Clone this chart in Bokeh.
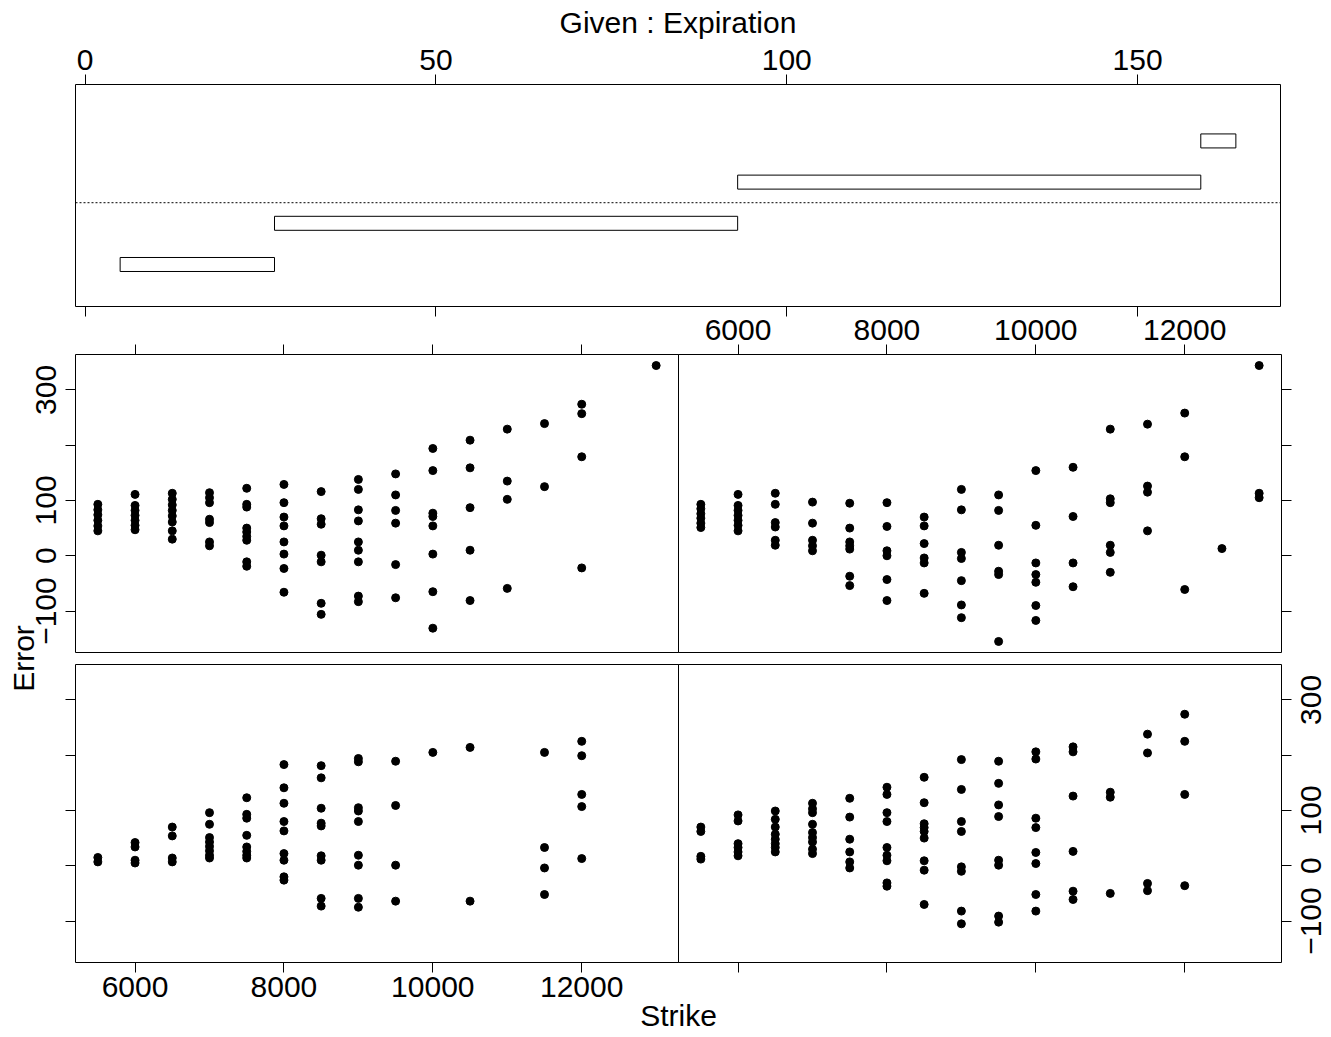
from bokeh.plotting import figure
from bokeh.models import LinearAxis, FixedTicker, Range1d, BoxAnnotation
from bokeh.embed import file_html
from bokeh.resources import INLINE

# ---------------------------------------------------------------------------
# Data: option pricing error against strike, conditioned on days to expiration
# ---------------------------------------------------------------------------

# conditioning intervals of Expiration (days), lowest interval first
exp_lo = [5, 27, 93, 159]
exp_hi = [27, 93, 159, 164]
exp_ticks = [0, 50, 100, 150]

strike_ticks = [6000, 8000, 10000, 12000]
error_ticks = [-100, 0, 100, 200, 300]
error_labels = {-100: "\u2212100", 0: "0", 100: "100", 200: "", 300: "300"}

# interval 1 (bottom-left panel)
int1_strike = [
    5500, 5500,
    6000, 6000, 6000, 6000,
    6500, 6500, 6500, 6500,
    7000, 7000, 7000, 7000, 7000, 7000, 7000, 7000,
    7500, 7500, 7500, 7500, 7500, 7500, 7500, 7500,
    8000, 8000, 8000, 8000, 8000, 8000, 8000, 8000, 8000,
    8500, 8500, 8500, 8500, 8500, 8500, 8500, 8500, 8500,
    9000, 9000, 9000, 9000, 9000, 9000, 9000, 9000, 9000,
    9500, 9500, 9500, 9500,
    10000,
    10500, 10500,
    11500, 11500, 11500, 11500,
    12000, 12000, 12000, 12000, 12000,
]
int1_error = [
    15, 7,
    42, 34, 10, 5,
    70, 54, 14, 7,
    96, 75, 51, 43, 35, 27, 19, 14,
    123, 93, 86, 55, 34, 26, 19, 14,
    183, 141, 113, 80, 63, 22, 10, -20, -26,
    181, 159, 104, 77, 72, 18, 10, -59, -73,
    194, 188, 105, 99, 80, 19, 1, -59, -75,
    189, 109, 1, -64,
    205,
    214, -64,
    205, 33, -4, -52,
    225, 199, 129, 107, 13,
]

# interval 2 (bottom-right panel)
int2_strike = [
    5500, 5500, 5500, 5500,
    6000, 6000, 6000, 6000, 6000, 6000,
    6500, 6500, 6500, 6500, 6500, 6500, 6500, 6500,
    7000, 7000, 7000, 7000, 7000, 7000, 7000, 7000, 7000,
    7500, 7500, 7500, 7500, 7500, 7500,
    8000, 8000, 8000, 8000, 8000, 8000, 8000, 8000, 8000,
    8500, 8500, 8500, 8500, 8500, 8500, 8500, 8500, 8500,
    9000, 9000, 9000, 9000, 9000, 9000, 9000, 9000,
    9500, 9500, 9500, 9500, 9500, 9500, 9500, 9500,
    10000, 10000, 10000, 10000, 10000, 10000, 10000, 10000,
    10500, 10500, 10500, 10500, 10500, 10500,
    11000, 11000, 11000,
    11500, 11500, 11500, 11500,
    12000, 12000, 12000, 12000,
]
int2_error = [
    70, 62, 17, 12,
    92, 81, 40, 33, 25, 18,
    99, 84, 70, 57, 48, 40, 33, 25,
    113, 103, 96, 75, 60, 51, 43, 30, 22,
    122, 88, 48, 25, 7, -4,
    142, 129, 96, 80, 33, 19, 9, -31, -37,
    160, 114, 76, 69, 62, 50, 9, -8, -70,
    192, 138, 80, 62, -2, -10, -82, -105,
    189, 149, 110, 89, 10, 1, -91, -102,
    206, 193, 86, 69, 24, 4, -52, -82,
    215, 206, 126, 26, -46, -61,
    133, 124, -50,
    238, 204, -32, -45,
    274, 225, 129, -36,
]

# interval 3 (top-left panel)
int3_strike = [
    5500, 5500, 5500, 5500, 5500, 5500,
    6000, 6000, 6000, 6000, 6000, 6000, 6000,
    6500, 6500, 6500, 6500, 6500, 6500, 6500, 6500,
    7000, 7000, 7000, 7000, 7000, 7000, 7000,
    7500, 7500, 7500, 7500, 7500, 7500, 7500, 7500, 7500,
    8000, 8000, 8000, 8000, 8000, 8000, 8000, 8000,
    8500, 8500, 8500, 8500, 8500, 8500, 8500,
    9000, 9000, 9000, 9000, 9000, 9000, 9000, 9000, 9000,
    9500, 9500, 9500, 9500, 9500, 9500,
    10000, 10000, 10000, 10000, 10000, 10000, 10000, 10000,
    10500, 10500, 10500, 10500, 10500,
    11000, 11000, 11000, 11000,
    11500, 11500,
    12000, 12000, 12000, 12000,
    13000,
]
int3_error = [
    93, 83, 74, 64, 54, 45,
    111, 91, 82, 73, 64, 55, 47,
    113, 102, 92, 82, 72, 61, 45, 30,
    114, 105, 96, 66, 60, 25, 18,
    122, 93, 88, 50, 43, 35, 28, -11, -19,
    129, 96, 70, 54, 25, 3, -23, -66,
    116, 67, 57, 1, -11, -86, -106,
    138, 120, 83, 63, 25, 10, -11, -73, -83,
    148, 110, 82, 59, -16, -76,
    194, 154, 77, 71, 54, 3, -65, -131,
    209, 159, 87, 10, -81,
    229, 135, 102, -59,
    239, 125,
    274, 257, 179, -22,
    344,
]

# interval 4 (top-right panel)
int4_strike = [
    5500, 5500, 5500, 5500, 5500, 5500,
    6000, 6000, 6000, 6000, 6000, 6000, 6000,
    6500, 6500, 6500, 6500, 6500, 6500,
    7000, 7000, 7000, 7000, 7000,
    7500, 7500, 7500, 7500, 7500, 7500, 7500,
    8000, 8000, 8000, 8000, 8000, 8000,
    8500, 8500, 8500, 8500, 8500, 8500,
    9000, 9000, 9000, 9000, 9000, 9000, 9000,
    9500, 9500, 9500, 9500, 9500, 9500,
    10000, 10000, 10000, 10000, 10000, 10000, 10000,
    10500, 10500, 10500, 10500,
    11000, 11000, 11000, 11000, 11000, 11000,
    11500, 11500, 11500, 11500,
    12000, 12000, 12000,
    12500,
    13000, 13000, 13000,
]
int4_error = [
    93, 85, 76, 68, 59, 51,
    111, 91, 82, 73, 64, 55, 45,
    113, 93, 60, 52, 28, 19,
    97, 59, 28, 18, 9,
    95, 50, 25, 18, 12, -37, -54,
    96, 53, 9, 0, -43, -81,
    70, 54, 22, -4, -13, -68,
    120, 83, 6, -5, -45, -89, -112,
    110, 82, 19, -28, -34, -155,
    154, 55, -13, -34, -48, -90, -117,
    160, 71, -13, -56,
    229, 103, 96, 19, 6, -30,
    238, 126, 115, 45,
    258, 179, -61,
    13,
    344, 113, 105,
]

# ---------------------------------------------------------------------------
# Page geometry (canvas pixels, measured from the top-left corner)
# ---------------------------------------------------------------------------
W, H = 1331, 1037
FONT = "Liberation Sans"
TICK_SIZE = "30px"
LABEL_SIZE = "30px"

GIVEN_X, GIVEN_Y = (75, 1280), (84, 306)
LEFT_X, RIGHT_X = (75, 678), (678, 1281)
TOP_Y, BOTTOM_Y = (354, 652), (664, 962)
RIGHT_LABEL_EDGE = 1321  # right-hand edge of the upright labels beside the right column


def padded(lo, hi, frac=0.04):
    pad = (hi - lo) * frac
    return lo - pad, hi + pad


def x_scale_for(d0, d1, px0, px1):
    """Range over the whole canvas width that puts [d0, d1] on [px0, px1]."""
    k = (d1 - d0) / (px1 - px0)
    return Range1d(d0 - px0 * k, d0 + (W - px0) * k)


def y_scale_for(d0, d1, px_top, px_bottom):
    """Range over the whole canvas height that puts [d0, d1] on [px_bottom, px_top]."""
    k = (d1 - d0) / (px_bottom - px_top)
    return Range1d(d0 - (H - px_bottom) * k, d1 + px_top * k)


all_strike = int1_strike + int2_strike + int3_strike + int4_strike
all_error = int1_error + int2_error + int3_error + int4_error
strike_lim = padded(min(all_strike), max(all_strike))
error_lim = padded(min(all_error), max(all_error))
exp_lim = padded(min(exp_lo), max(exp_hi))
given_lim = (-0.02, 5.37)

p = figure(width=W, height=H, x_range=Range1d(0, W), y_range=Range1d(H, 0),
           x_axis_location=None, y_axis_location=None,
           toolbar_location=None, output_backend="svg", min_border=0)
p.outline_line_color = None
p.background_fill_color = "white"
p.border_fill_color = "white"
p.grid.visible = False

p.extra_x_ranges = {
    "exp": x_scale_for(*exp_lim, *GIVEN_X),
    "strike_l": x_scale_for(*strike_lim, *LEFT_X),
    "strike_r": x_scale_for(*strike_lim, *RIGHT_X),
}
p.extra_y_ranges = {
    "given": y_scale_for(*given_lim, *GIVEN_Y),
    "err_top": y_scale_for(*error_lim, *TOP_Y),
    "err_bot": y_scale_for(*error_lim, *BOTTOM_Y),
}


def frame_box(xs, ys):
    p.add_layout(BoxAnnotation(left=xs[0], right=xs[1], top=ys[0], bottom=ys[1],
                               fill_alpha=0, line_color="black", line_alpha=1,
                               line_width=1))


def add_axis(side, loc, ticks, labels=None, xr="default", yr="default",
             bounds=None, orientation=None, standoff=0, tick_out=10):
    ax = LinearAxis(ticker=FixedTicker(ticks=ticks, minor_ticks=[]),
                    fixed_location=loc, x_range_name=xr, y_range_name=yr)
    if bounds is not None:
        ax.bounds = bounds
    ax.major_tick_out = tick_out
    ax.major_tick_in = 0
    ax.minor_tick_out = 0
    ax.minor_tick_in = 0
    ax.axis_line_color = None
    ax.major_tick_line_color = "black"
    ax.major_tick_line_width = 1
    ax.major_label_text_font = FONT
    ax.major_label_text_font_size = TICK_SIZE
    ax.major_label_text_color = "black"
    ax.major_label_standoff = standoff
    ax.major_label_overrides = labels if labels is not None else {t: "" for t in ticks}
    if orientation is not None:
        ax.major_label_orientation = orientation
    ax.axis_label_text_font = FONT
    ax.axis_label_text_font_size = LABEL_SIZE
    ax.axis_label_text_font_style = "normal"
    ax.axis_label_text_color = "black"
    p.add_layout(ax, side)
    return ax


def add_points(xs, ys, xr, yr):
    p.scatter(xs, ys, marker="circle", size=8, fill_color="black",
              line_color="black", line_width=1, x_range_name=xr, y_range_name=yr)


strike_text = {t: str(t) for t in strike_ticks}
exp_text = {t: str(t) for t in exp_ticks}

# --- conditioning panel: one bar per Expiration interval ---------------------
frame_box(GIVEN_X, GIVEN_Y)
idx = [1, 2, 3, 4]
p.quad(left=exp_lo, right=exp_hi,
       bottom=[i - 0.17 for i in idx], top=[i + 0.17 for i in idx],
       fill_color="white", line_color="black", line_width=1,
       x_range_name="exp", y_range_name="given")
p.line(x=list(exp_lim), y=[2.5, 2.5], line_color="black", line_width=1,
       line_dash="2 2", x_range_name="exp", y_range_name="given")
g_top = add_axis("above", GIVEN_Y[0], exp_ticks, exp_text, xr="exp",
                 bounds=exp_lim, standoff=5)
g_top.axis_label = "Given : Expiration"
g_top.axis_label_standoff = 8
add_axis("below", GIVEN_Y[1], exp_ticks, xr="exp", bounds=exp_lim)

# --- dependence panels (bottom row = intervals 1, 2; top row = 3, 4) --------
frame_box(LEFT_X, BOTTOM_Y)
add_points(int1_strike, int1_error, "strike_l", "err_bot")
add_axis("left", LEFT_X[0], error_ticks, yr="err_bot", bounds=error_lim)
add_axis("below", BOTTOM_Y[1], strike_ticks, strike_text, xr="strike_l",
         bounds=strike_lim, standoff=4)

frame_box(RIGHT_X, BOTTOM_Y)
add_points(int2_strike, int2_error, "strike_r", "err_bot")
add_axis("right", RIGHT_X[1], error_ticks, yr="err_bot", bounds=error_lim)
# upright tick labels of the right-hand Error scale (read bottom-to-top)
add_axis("left", RIGHT_LABEL_EDGE, error_ticks, error_labels, yr="err_bot",
         bounds=error_lim, orientation="vertical", standoff=0, tick_out=0)
add_axis("below", BOTTOM_Y[1], strike_ticks, xr="strike_r", bounds=strike_lim)

frame_box(LEFT_X, TOP_Y)
add_points(int3_strike, int3_error, "strike_l", "err_top")
add_axis("left", LEFT_X[0], error_ticks, error_labels, yr="err_top",
         bounds=error_lim, orientation="vertical", standoff=9)
add_axis("above", TOP_Y[0], strike_ticks, xr="strike_l", bounds=strike_lim)

frame_box(RIGHT_X, TOP_Y)
add_points(int4_strike, int4_error, "strike_r", "err_top")
add_axis("right", RIGHT_X[1], error_ticks, yr="err_top", bounds=error_lim)
add_axis("above", TOP_Y[0], strike_ticks, strike_text, xr="strike_r",
         bounds=strike_lim, standoff=5)

# --- shared axis titles ------------------------------------------------------
for side, loc, text, bnds, off in (
        ("below", BOTTOM_Y[1], "Strike", (LEFT_X[0], RIGHT_X[1]), 36),
        ("left", LEFT_X[0], "Error", (TOP_Y[0], BOTTOM_Y[1]), 36)):
    ax = add_axis(side, loc, [], bounds=bnds, tick_out=0)
    ax.axis_label = text
    ax.axis_label_standoff = off

with open("out.html", "w") as fh:
    fh.write(file_html(p, INLINE))
